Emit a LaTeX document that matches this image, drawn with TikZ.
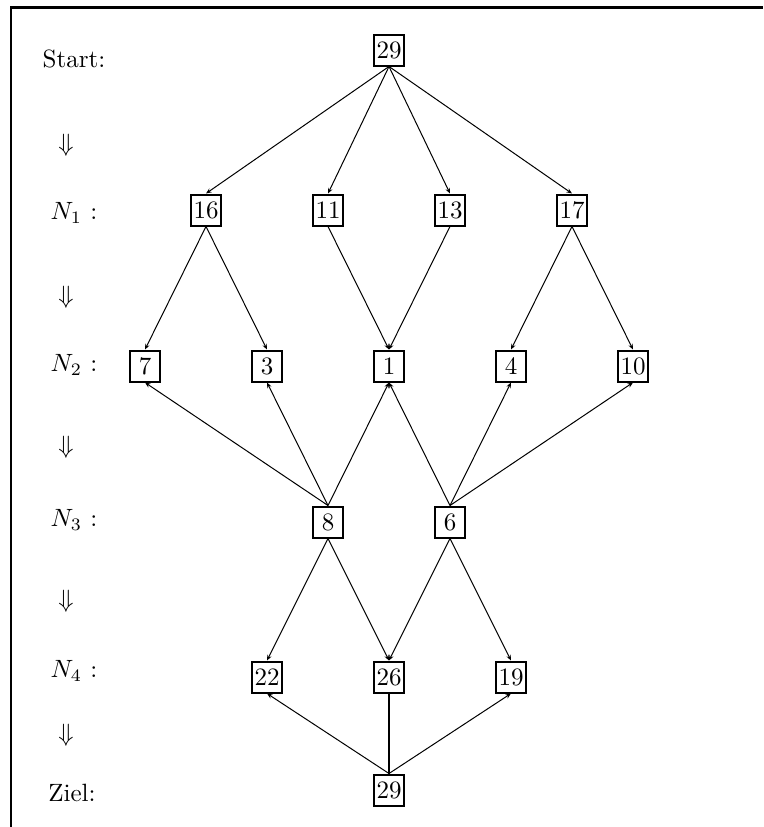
\documentclass[tikz,border=0pt]{standalone}
\usetikzlibrary{arrows.meta}
\begin{document}
\begin{tikzpicture}[x=0.4pt,y=-0.4pt,
  num/.style={draw,line width=0.8pt,minimum width=11.8pt,minimum height=12.4pt,inner sep=0.5pt},
  lbl/.style={inner sep=0pt},
  edge/.style={line width=0.4pt,-{Stealth[length=2.2pt,width=1.8pt]}},
  thick edge/.style={line width=0.9pt}]
\useasboundingbox (0,0) rectangle (763,827);
\draw[line width=1.1pt] (11,827) -- (11,7.2) -- (763,7.2);
% labels
\node[lbl] (lS) at (74,59) {Start:};
\node[lbl] (a1) at (66,145) {$\Downarrow$};
\node[lbl] (l1) at (74,213) {$N_1$ :};
\node[lbl] (a2) at (66,297) {$\Downarrow$};
\node[lbl] (l2) at (74,365) {$N_2$ :};
\node[lbl] (a3) at (66,447) {$\Downarrow$};
\node[lbl] (l3) at (74,520) {$N_3$ :};
\node[lbl] (a4) at (66,601) {$\Downarrow$};
\node[lbl] (l4) at (74,671) {$N_4$ :};
\node[lbl] (a5) at (66,735) {$\Downarrow$};
\node[lbl] (lZ) at (72,793) {Ziel:};
% nodes
\node[num] (s) at (389,50) {29};
\node[num] (n16) at (206,210) {16};
\node[num] (n11) at (328,210) {11};
\node[num] (n13) at (450,210) {13};
\node[num] (n17) at (572,210) {17};
\node[num] (n7) at (145,366) {7};
\node[num] (n3) at (267,366) {3};
\node[num] (n1) at (389,366) {1};
\node[num] (n4) at (511,366) {4};
\node[num] (n10) at (633,366) {10};
\node[num] (n8) at (328,522) {8};
\node[num] (n6) at (450,522) {6};
\node[num] (n22) at (267,677) {22};
\node[num] (n26) at (389,677) {26};
\node[num] (n19) at (511,677) {19};
\node[num] (z) at (389,790) {29};
% edges
\foreach \t in {n16,n11,n13,n17} \draw[edge] (s.south) -- (\t.north);
\draw[edge] (n16.south) -- (n7.north);
\draw[edge] (n16.south) -- (n3.north);
\draw[edge] (n11.south) -- (n1.north);
\draw[edge] (n13.south) -- (n1.north);
\draw[edge] (n17.south) -- (n4.north);
\draw[edge] (n17.south) -- (n10.north);
\draw[edge] (n8.north) -- (n7.south);
\draw[edge] (n8.north) -- (n3.south);
\draw[edge] (n8.north) -- (n1.south);
\draw[edge] (n6.north) -- (n1.south);
\draw[edge] (n6.north) -- (n4.south);
\draw[edge] (n6.north) -- (n10.south);
\draw[edge] (n8.south) -- (n22.north);
\draw[edge] (n8.south) -- (n26.north);
\draw[edge] (n6.south) -- (n26.north);
\draw[edge] (n6.south) -- (n19.north);
\draw[edge] (z.north) -- (n22.south);
\draw[edge] (z.north) -- (n19.south);
\draw[thick edge] (z.north) -- (n26.south);
\end{tikzpicture}
\end{document}
